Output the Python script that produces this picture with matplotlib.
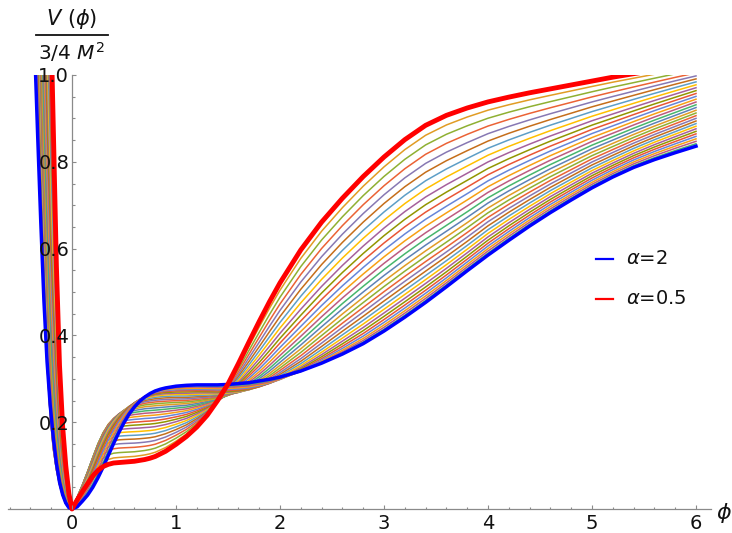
import numpy as np
import matplotlib
matplotlib.use("Agg")
import matplotlib.pyplot as plt
from matplotlib.lines import Line2D
from matplotlib.ticker import FixedLocator

# ---------------- data ----------------
phi = [-0.36, -0.33, -0.30, -0.27, -0.24, -0.21, -0.18, -0.15, -0.12, -0.09, -0.06, -0.03, 0.0,
       0.05, 0.10, 0.15, 0.20, 0.25, 0.30, 0.35, 0.40, 0.45, 0.50,
       0.55, 0.60, 0.65, 0.70, 0.75, 0.80, 0.85, 0.90, 0.95, 1.00,
       1.10, 1.20, 1.30, 1.40, 1.50, 1.60, 1.70, 1.80, 1.90, 2.00,
       2.20, 2.40, 2.60, 2.80, 3.00, 3.20, 3.40, 3.60, 3.80, 4.00,
       4.20, 4.40, 4.60, 4.80, 5.00, 5.20, 5.40, 5.60, 5.80, 6.00]

# alpha = 0.5 (red)
v_red = [3.6, 3.0, 2.4, 1.9, 1.5, 1.2, 0.88, 0.56, 0.33, 0.19, 0.10, 0.035, 0.0,
         0.021, 0.040, 0.058, 0.076, 0.089, 0.098, 0.103, 0.106, 0.107, 0.108,
         0.109, 0.110, 0.112, 0.114, 0.117, 0.121, 0.127, 0.133, 0.141, 0.149,
         0.167, 0.189, 0.216, 0.250, 0.288, 0.335, 0.384, 0.432, 0.478, 0.521,
         0.597, 0.661, 0.716, 0.766, 0.811, 0.851, 0.884, 0.907, 0.924, 0.938,
         0.949, 0.959, 0.968, 0.977, 0.986, 0.995, 1.003, 1.011, 1.019, 1.026]

# alpha = 1.25 (middle curve of the family)
v_mid = [1.9, 1.5, 1.1, 0.82, 0.58, 0.39, 0.26, 0.17, 0.105, 0.06, 0.028, 0.008, 0.0,
         0.026, 0.054, 0.085, 0.118, 0.150, 0.176, 0.195, 0.207, 0.215, 0.220,
         0.224, 0.227, 0.229, 0.231, 0.232, 0.233, 0.234, 0.235, 0.236, 0.237,
         0.239, 0.243, 0.248, 0.254, 0.262, 0.272, 0.285, 0.300, 0.318, 0.338,
         0.378, 0.420, 0.461, 0.500, 0.538, 0.574, 0.608, 0.640, 0.672, 0.705,
         0.733, 0.759, 0.784, 0.807, 0.830, 0.850, 0.870, 0.889, 0.907, 0.925]

# alpha = 2 (blue)
v_blue = [1.07, 0.86, 0.66, 0.48, 0.34, 0.24, 0.165, 0.105, 0.062, 0.033, 0.014, 0.003, 0.0,
          0.005, 0.018, 0.032, 0.050, 0.072, 0.097, 0.124, 0.151, 0.176, 0.199,
          0.219, 0.235, 0.248, 0.258, 0.266, 0.272, 0.276, 0.279, 0.281, 0.283,
          0.285, 0.286, 0.286, 0.286, 0.287, 0.289, 0.291, 0.295, 0.299, 0.304,
          0.318, 0.336, 0.357, 0.381, 0.410, 0.442, 0.476, 0.512, 0.549, 0.585,
          0.619, 0.652, 0.683, 0.712, 0.740, 0.765, 0.787, 0.805, 0.821, 0.836]

alphas = [0.5, 0.55, 0.6, 0.65, 0.7, 0.75, 0.8, 0.85, 0.9, 0.95, 1.0, 1.05, 1.1, 1.15, 1.2, 1.25,
          1.3, 1.35, 1.4, 1.45, 1.5, 1.55, 1.6, 1.65, 1.7, 1.75, 1.8, 1.85, 1.9, 1.95, 2.0]

x_ticks = [0, 1, 2, 3, 4, 5, 6]
y_ticks = [0.2, 0.4, 0.6, 0.8, 1.0]
y_tick_labels = ["0.2", "0.4", "0.6", "0.8", "1.0"]

palette = ["#5E81B5", "#E19C24", "#8FB032", "#EB6235", "#8778B3", "#C56E1A", "#5D9EC7",
           "#FFBF00", "#A5609D", "#929600", "#E95536", "#6685D9", "#F89F13", "#BC5B80", "#47B66D"]

FONT = ["DejaVu Sans"]
plt.rcParams["font.family"] = FONT
plt.rcParams["mathtext.fontset"] = "dejavusans"

W, H = 732, 533
fig = plt.figure(figsize=(W / 100, H / 100), dpi=100)

x0, x1 = -0.62, 6.14
y0, y1 = -0.015, 1.0
sx, sy = 104.0, 434.0
left_px = 72 + x0 * sx
bottom_px = 509 - y0 * sy
ax = fig.add_axes([left_px / W, (H - bottom_px) / H, (x1 - x0) * sx / W, (y1 - y0) * sy / H])
ax.set_xlim(x0, x1)
ax.set_ylim(y0, y1)

R = np.array(v_red)
M = np.array(v_mid)
B = np.array(v_blue)

for k, a in enumerate(alphas):
    s = (a - alphas[0]) / (alphas[-1] - alphas[0])
    w0 = 2 * (s - 0.5) * (s - 1)
    w1 = -4 * s * (s - 1)
    w2 = 2 * s * (s - 0.5)
    v = w0 * R + w1 * M + w2 * B
    ax.plot(phi, v, color=palette[k % len(palette)], lw=1.1, zorder=3,
            solid_joinstyle="round")

ax.plot(phi, B, color="#0000FF", lw=2.5, zorder=4, solid_joinstyle="round")
ax.plot(phi, R, color="#FF0000", lw=3.5, zorder=5, solid_joinstyle="round")

axis_col = "#8a8a8a"
for side in ["top", "right"]:
    ax.spines[side].set_visible(False)
ax.spines["left"].set_position(("data", 0))
ax.spines["bottom"].set_position(("data", 0))
ax.spines["left"].set_bounds(0, 1.0)
for side in ["left", "bottom"]:
    ax.spines[side].set_color(axis_col)
    ax.spines[side].set_linewidth(0.9)
    ax.spines[side].set_zorder(2)

ax.set_xticks(x_ticks)
ax.set_xticklabels([str(t) for t in x_ticks])
ax.xaxis.set_minor_locator(FixedLocator([round(-0.6 + 0.2 * i, 2) for i in range(34)
                                         if abs(round(-0.6 + 0.2 * i, 2) % 1) > 1e-6]))
ax.set_yticks(y_ticks)
ax.set_yticklabels(y_tick_labels)
ax.yaxis.set_minor_locator(FixedLocator([round(0.05 * i, 2) for i in range(1, 20) if i % 4 != 0]))

ax.tick_params(axis="both", which="both", direction="in", color=axis_col, width=0.8,
               labelcolor="#111111", labelsize=14)
ax.tick_params(axis="both", which="major", length=3.0)
ax.tick_params(axis="both", which="minor", length=1.8)
ax.tick_params(axis="x", which="major", pad=3.5)
ax.tick_params(axis="y", which="major", pad=2)
ax.xaxis.set_zorder(6)
ax.yaxis.set_zorder(6)

def fx(px):
    return px / W

def fy(py):
    return 1 - py / H

# axis labels
fig.text(fx(724), fy(513), "ϕ", fontsize=16, style="italic", ha="center", va="center",
         color="#111111")
fig.text(fx(72), fy(19), r"$V\ (\phi)$", fontsize=15, ha="center", va="center",
         color="#111111")
fig.add_artist(Line2D([fx(36), fx(108)], [fy(35), fy(35)], color="#111111", lw=1.3))
fig.text(fx(72), fy(52), r"$\mathrm{3/4}\ M^{2}$", fontsize=14.5, ha="center", va="center",
         color="#111111")

# legend
for (py, col, lab) in [(259, "#0000FF", r"$\alpha$=2"), (299, "#FF0000", r"$\alpha$=0.5")]:
    fig.add_artist(Line2D([fx(596), fx(613)], [fy(py), fy(py)], color=col, lw=1.6))
    fig.text(fx(626), fy(py), lab, fontsize=14, ha="left", va="center", color="#111111")

fig.savefig("out.png", dpi=100)
